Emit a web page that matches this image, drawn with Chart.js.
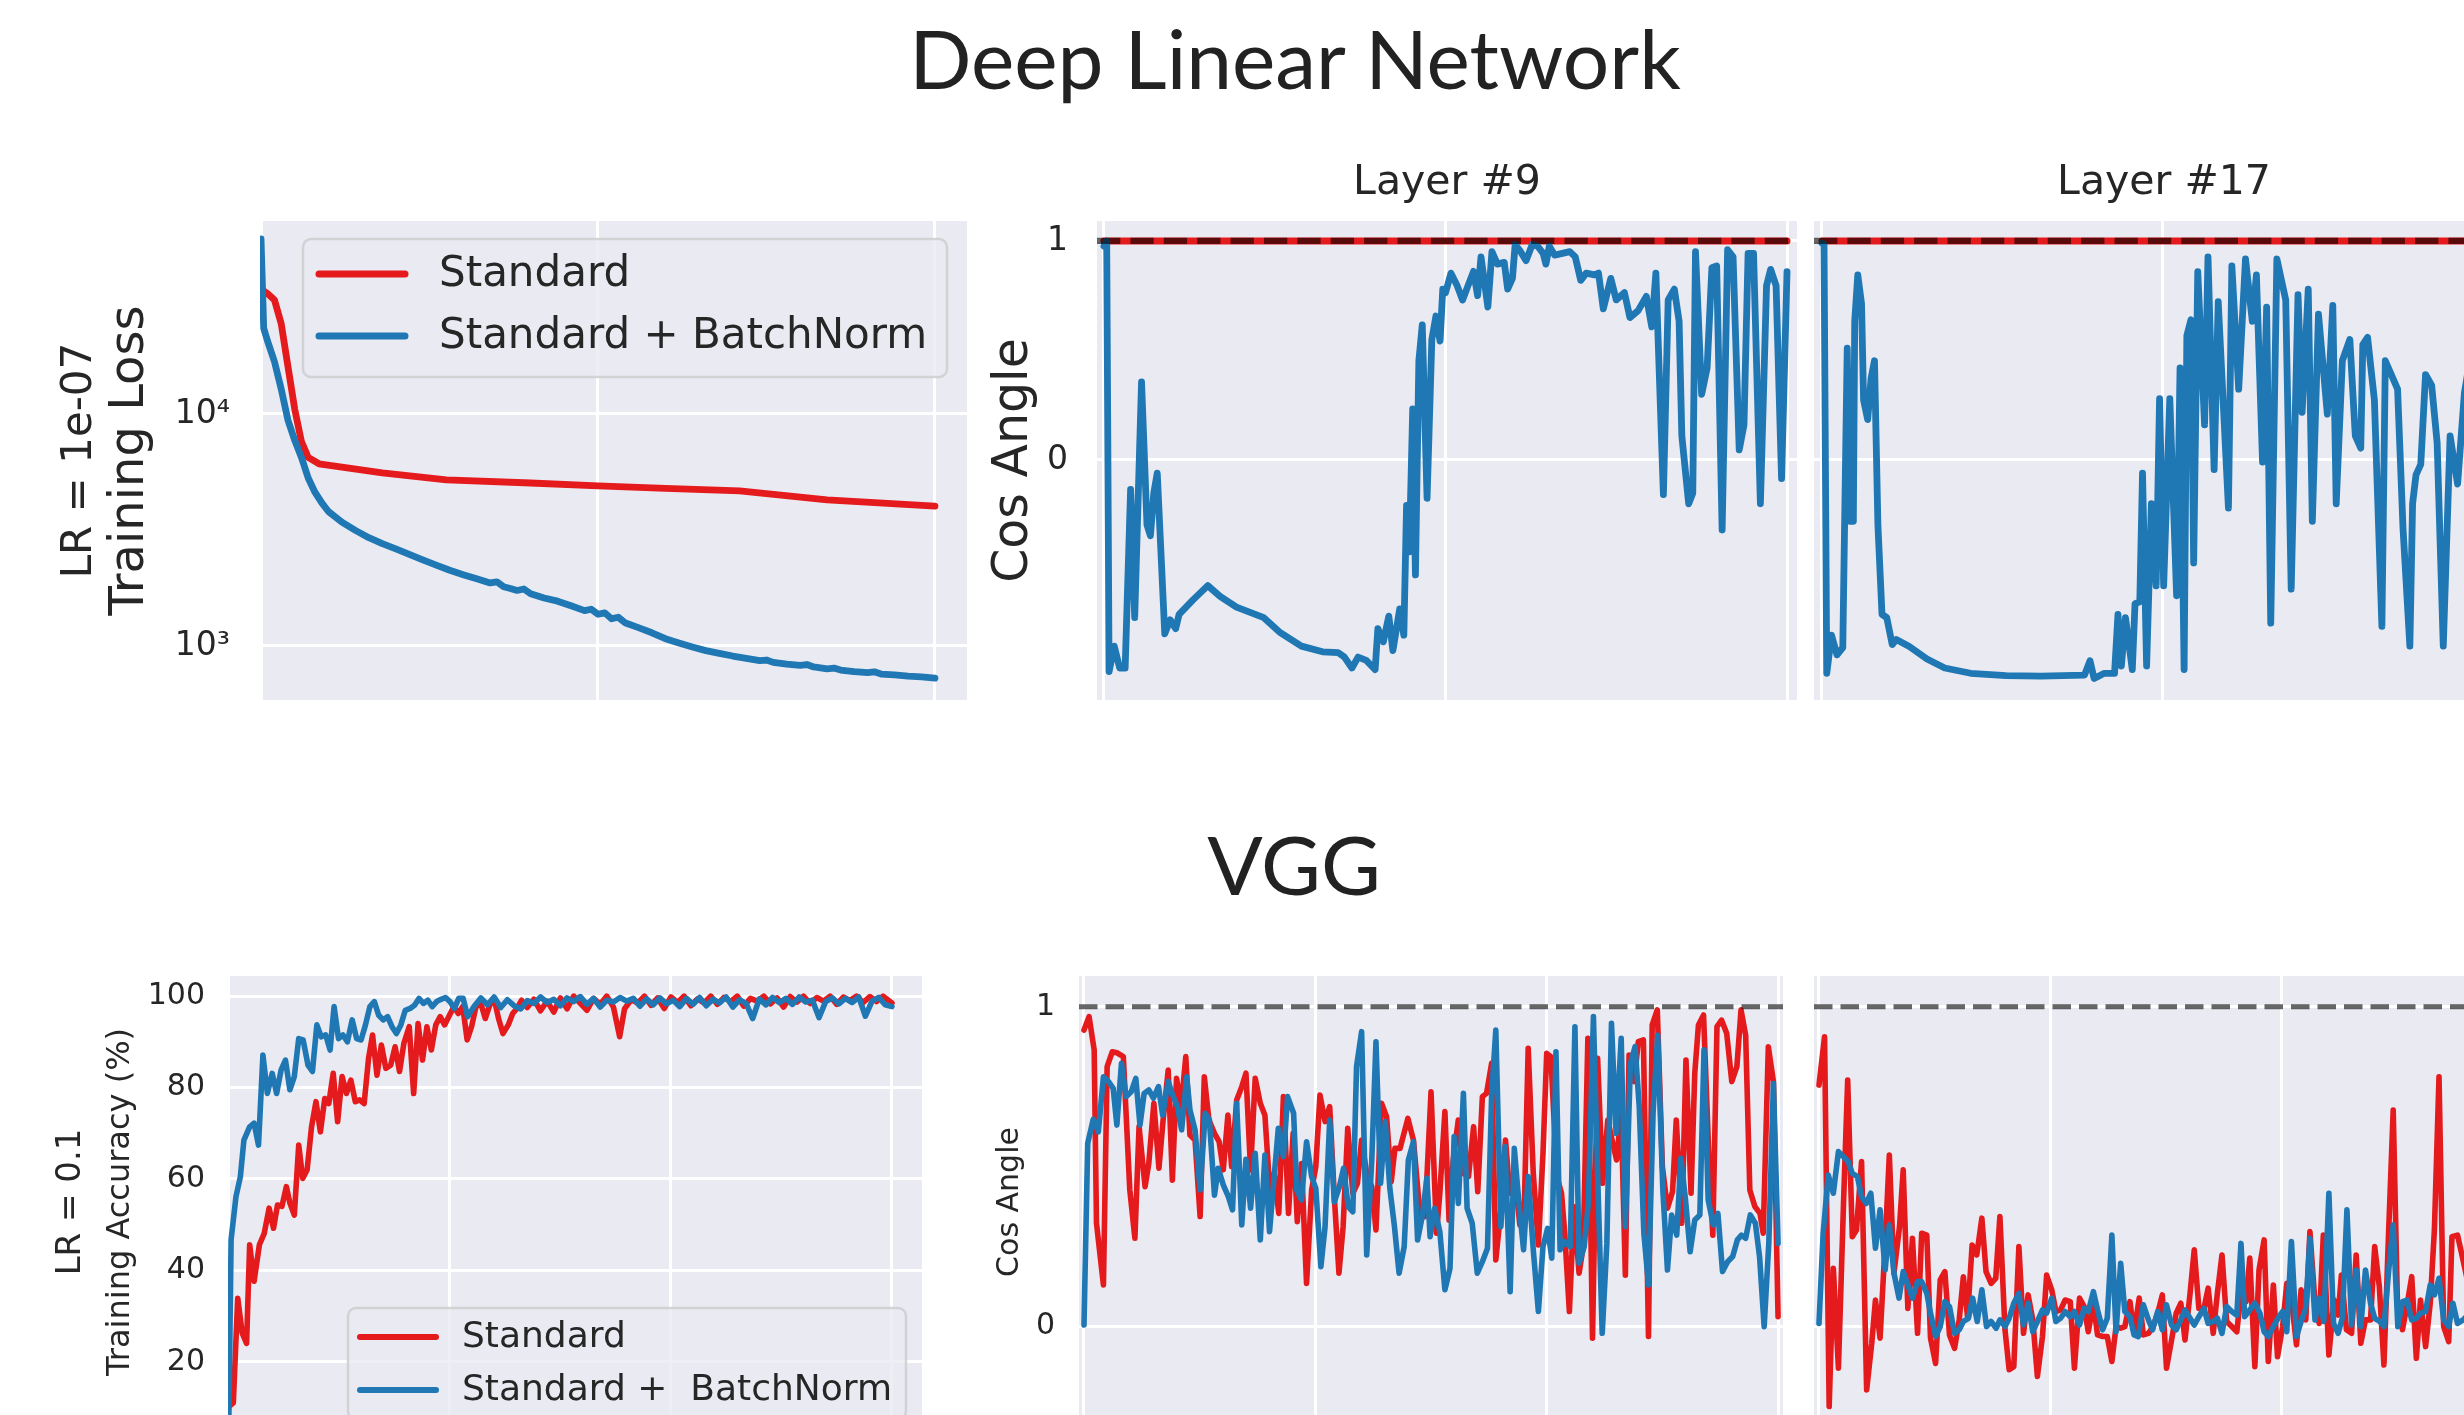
<!DOCTYPE html>
<html>
<head>
<meta charset="utf-8">
<script src="https://cdn.jsdelivr.net/npm/chart.js@4.4.1/dist/chart.umd.min.js"></script>
<style>
  html, body { margin: 0; padding: 0; background: #fff; overflow: hidden; width: 2464px; height: 1415px; }
  canvas { position: absolute; }
  .sup { position: absolute; font-family: Lato, sans-serif; font-size: 82px; line-height: 82px;
         color: #222; white-space: nowrap; transform: translateX(-50%); }
</style>
</head>
<body>
<div class="sup" style="left:1295px; top:16px;">Deep Linear Network</div>
<div class="sup" style="left:1294px; top:822px;">VGG</div>
<canvas id="lossChart"></canvas>
<canvas id="layer9Chart"></canvas>
<canvas id="layer17Chart"></canvas>
<canvas id="accChart"></canvas>
<canvas id="vggMidChart"></canvas>
<canvas id="vggRightChart"></canvas>
<script>
// ---- data (x = training step index) ----
var legendNames = ['Standard', 'Standard + BatchNorm'];
var legendNamesVgg = ['Standard', 'Standard +  BatchNorm'];
var lossTicks = [1000, 10000];
var cosTicks = [0, 1];
var accTicks = [20, 40, 60, 80, 100];

var dlnLossStd = [[0,34600],[1,33000],[2,31000],[3,24500],[4,16000],[5,10500],[6,7600],[7,6500],[8.6,6100],
  [12,5900],[18,5570],[27.5,5200],[40,5040],[50,4900],[60,4780],[71,4660],[84,4260],[100,4010]];
var dlnLossBN = [[0,56800],[0.4,23400],[1,20500],[2,16800],[3,12800],[4,9400],[5,7700],[6,6500],[7,5300],[8,4600],
  [9,4150],[10,3800],[12,3420],[14,3150],[16,2930],[18,2760],[20,2620],[22,2480],[24,2350],[26,2230],[28,2120],
  [30,2030],[32,1950],[34,1870],[35,1890],[36,1800],[37,1770],[38,1735],[39,1760],[40,1680],[42,1610],[44,1560],
  [46,1490],[48,1420],[49,1440],[50,1370],[51,1390],[52,1310],[53,1330],[54,1260],[56,1200],[58,1140],[60,1075],
  [62,1030],[64,990],[66,955],[68,930],[70,905],[72,885],[74,865],[75,870],[76,850],[78,835],[80,825],[81,832],
  [82,812],[84,797],[85,803],[86,787],[88,776],[90,768],[91,774],[92,757],[94,751],[96,742],[98,736],[100,727]];

var layer9Std = [[0,1],[100,1]];
var layer9BN = [[0,.976],[0.4,1],[0.75,-.966],[1.5,-.85],[2.3,-.95],[3.1,-.95],[3.9,-.134],[4.5,-.72],[5.5,.356],
  [6.3,-.297],[6.8,-.346],[7.3,-.15],[7.8,-.06],[8.9,-.794],[9.7,-.73],[10.5,-.77],[11,-.705],[13,-.64],[15.2,-.574],
  [17,-.623],[19.4,-.672],[23.4,-.72],[25.7,-.786],[28.9,-.85],[32,-.876],[34.3,-.88],[35.2,-.9],[36.3,-.95],
  [37.2,-.9],[38.4,-.915],[39.7,-.957],[40.1,-.77],[40.9,-.83],[41.7,-.713],[42.3,-.87],[43.3,-.68],[43.9,-.8],
  [44.3,-.207],[44.7,-.42],[45.2,.233],[45.6,-.525],[46.1,.453],[46.6,.617],[47.3,-.175],[48,.55],[48.6,.657],
  [49.2,.543],[49.6,.78],[50,.763],[50.8,.853],[51.7,.796],[52.5,.73],[53.3,.796],[54.1,.861],[54.7,.75],[55.2,.927],
  [56.2,.698],[56.8,.951],[57.6,.894],[58.6,.902],[59.1,.78],[59.8,.829],[60.2,.984],[61,.951],[61.8,.91],[62.7,.984],
  [63.5,.976],[64.3,.943],[64.7,.894],[65.2,.976],[66,.935],[68.2,.951],[69,.927],[69.8,.82],[70.6,.853],[71.8,.845],
  [72.4,.853],[73.1,.69],[74.2,.829],[75,.731],[76.2,.764],[77,.65],[78.2,.682],[79.4,.747],[80.2,.608],[80.8,.853],
  [81.9,-.158],[82.6,.731],[83.5,.78],[84.2,.633],[84.6,.11],[85.6,-.2],[86.2,-.152],[86.6,.951],[87.5,.3],[88.3,.42],
  [89,.878],[89.7,.886],[90.5,-.32],[91.3,.96],[92.1,.927],[93,.046],[93.7,.16],[94.3,.943],[95.1,.943],[96.1,-.2],
  [97,.796],[97.6,.87],[98.4,.796],[99.2,-.085],[100,.86]];

var layer17Std = [[0,1],[100,1]];
var layer17BN = [[0,.99],[0.3,.985],[0.7,-.974],[1.4,-.8],[2.2,-.89],[3.05,-.857],[3.7,.51],[4.1,-.28],[4.6,-.28],
  [4.8,.633],[5.25,.845],[5.8,.714],[6.1,.274],[6.7,.184],[7.2,.372],[7.7,.453],[8.2,-.296],[8.8,-.705],[9.5,-.72],
  [10.3,-.843],[10.9,-.82],[12.8,-.852],[15.4,-.909],[18,-.95],[21.8,-.974],[27,-.985],[32.1,-.987],[38.5,-.982],
  [39.3,-.917],[39.9,-.998],[41.4,-.974],[42.9,-.974],[43.4,-.705],[43.9,-.941],[44.5,-.72],[45.5,-.957],[45.9,-.656],
  [46.6,-.648],[47,-.06],[47.6,-.941],[48.3,-.2],[49,-.575],[49.5,.28],[50.1,-.575],[51,.28],[52,-.62],[52.5,.42],
  [53.1,-.957],[53.5,.568],[54.1,.64],[54.5,-.47],[55.1,.86],[56.1,.16],[56.6,.927],[57.5,-.044],[58.1,.723],
  [59.6,-.22],[60.1,.886],[61.1,.323],[62.1,.918],[63.1,.633],[63.7,.845],[64.6,-.01],[65.2,.698],[65.8,-.745],
  [66.7,.918],[68,.73],[68.8,-.59],[69.8,.755],[70.4,.217],[71.3,.78],[71.9,-.28],[72.8,.666],[74.1,.209],[74.9,.706],
  [75.4,-.2],[76.3,.453],[77.4,.55],[78.2,.11],[79,.054],[79.3,.527],[80,.56],[81,.274],[82.1,-.76],[82.6,.453],
  [84.4,.323],[85.2,-.315],[86.2,-.85],[86.6,-.2],[87.1,-.068],[87.8,-.02],[88.5,.39],[89.4,.34],[90.2,.078],
  [91.1,-.85],[92.1,.11],[93.2,-.11],[94.2,.307],[95.5,.55],[96.8,.05],[98,.62],[99.2,.2],[100,.45]];

var vggAccStd = [[0,10.2],[1,11],[2,33.9],[3,26.3],[4,24],[4.7,45.6],[5.7,37.6],[6.9,45.6],[8,48.1],[9.1,53.6],
  [10.1,49.2],[11,54.3],[12,54],[13,58.3],[13.8,54.7],[14.8,52.1],[15.8,67.4],[16.7,60.1],[17.7,62],[18.7,71.4],
  [19.7,76.9],[20.7,70.3],[21.7,77.6],[22.6,76.5],[23.6,83.1],[24.6,72.5],[25.6,82.4],[26.6,78.7],[27.6,81.6],
  [28.6,76.9],[29.6,77.3],[30.6,76.5],[31.6,86.4],[32.5,91.5],[33.5,82.7],[34.5,89.3],[35.5,84.2],[36.6,84.9],
  [37.6,88.9],[38.6,83.5],[39.6,89.7],[40.8,93.3],[41.8,78.7],[42.8,94],[43.8,86],[44.8,93.3],[45.8,88.2],[46.8,93.7],
  [47.8,95.5],[48.8,93.7],[49.9,95.8],[50.9,97.7],[51.9,96.2],[52.9,97.7],[53.9,90.4],[54.9,93.3],[55.9,97.7],[57,98.4],
  [58,95.1],[59,98],[60,99.5],[61,95.1],[62,91.8],[63.2,93.7],[64.2,96.2],[65.2,97.3],[66.2,99.1],[67.5,97.5],[69,99.3],
  [70.5,96.8],[72,98.9],[73.5,96.5],[75,99.6],[76.5,97.2],[78,100],[79.5,98.4],[81,96.9],[82.5,99.5],[84,98.2],
  [85.5,100],[87,97.6],[88.4,91.1],[89.5,97.2],[91,99.2],[92.5,98.5],[94,100],[95.5,98],[97,99.6],[98.5,97.3],
  [100,99.8],[101.5,98.6],[103,100],[104.5,97.9],[106,99.4],[107.5,98.5],[109,100],[110.5,98.2],[112,99.7],
  [113.5,98.8],[115,100],[116.5,97.8],[118,99.5],[119.5,98.9],[121,100],[122.5,98.3],[124,99.6],[125.5,97.6],
  [127,99.9],[128.5,98.7],[130,100],[131.5,98.4],[133,99.7],[134.5,98.9],[136,100],[137.5,98.2],[139,99.8],
  [140.5,99],[142,100],[143.5,98.6],[145,99.9],[146.5,98.8],[148,100],[150,98.5]];
var vggAccBN = [[0,8],[0.5,46.7],[1.6,56.1],[2.6,60.5],[3.4,68.5],[4.7,71.4],[5.7,72.2],[6.7,67.4],[7.7,87.1],
  [8.7,78.7],[9.8,83.1],[10.8,78.7],[11.8,83.8],[12.8,86],[13.8,79.5],[14.8,82.4],[15.8,90.7],[16.8,90.4],[17.9,84.9],
  [18.9,83.5],[19.9,93.7],[20.9,91.1],[21.9,91.5],[22.9,88.2],[23.8,97.7],[24.8,90.7],[25.8,91.5],[26.8,90],
  [27.9,94.8],[28.9,90.7],[29.9,90.4],[30.9,93.7],[31.9,97.7],[32.9,98.8],[33.9,95.8],[34.9,94.8],[35.9,95.5],
  [36.9,93.3],[37.9,91.8],[38.9,93.7],[39.9,96.9],[41,97.3],[42,98],[43,99.5],[44,98.4],[45,99.1],[46,97.7],[47,98.8],
  [48,99.3],[49,99.7],[50,98.8],[51,97.3],[52,99.5],[53,99.5],[54,95.5],[55.5,97.8],[57,99.6],[58.5,98.1],[60,99.8],
  [61.5,97.5],[63,99.2],[64.5,97.9],[66,97.2],[67.5,99],[69,98.4],[70.5,99.8],[72,98.6],[73.5,99.3],[75,97.9],
  [76.5,99.6],[78,98.8],[79.5,99.9],[81,98.2],[82.5,99.5],[84,97.6],[85.5,99.1],[87,98.7],[88.5,99.7],[90,98.9],
  [91.5,99.5],[93,97.8],[94.5,99.4],[96,98.1],[97.5,99.6],[99,98.3],[100.5,99.1],[102,97.7],[103.5,99.5],[105,98.2],
  [106.5,99.7],[108,97.9],[109.5,99.3],[111,98.5],[112.5,99.8],[114,97.6],[115.5,99.2],[117,98.4],[118.5,95.1],
  [120,99.4],[121.5,98.1],[123,99.7],[124.5,98.6],[126,99.5],[127.5,98.2],[129,99.8],[130.5,98.7],[132,99.1],
  [133.5,95.3],[135,98.8],[136.5,99.6],[138,98.3],[139.5,99.5],[141,98.6],[142.5,99.8],[144,95.6],[145.5,98.9],
  [147,99.7],[148.5,98.1],[150,97.7]];

var vggMidStd = [[0,.927],[1.1,.969],[2.2,.865],[2.7,.323],[4.2,.13],[5,.8125],[6.1,.859],[7.1,.856],[8.5,.844],
  [9.9,.427],[11,.276],[11.9,.625],[13.2,.4375],[14,.51],[15.1,.698],[16.2,.495],[17.1,.646],[18.2,.802],[19.1,.458],
  [20,.776],[21,.6875],[22,.844],[22.9,.599],[24,.583],[25.1,.344],[26,.781],[27,.646],[28.2,.604],[29.2,.578],
  [30.1,.49],[31.1,.661],[31.9,.5],[33,.708],[34.1,.75],[35,.792],[36,.49],[37,.776],[38.1,.698],[39.1,.661],
  [40.2,.417],[41.1,.479],[42.1,.354],[43.1,.719],[44.2,.354],[45.2,.604],[46.1,.328],[47,.51],[48.1,.135],[49.2,.427],
  [50.1,.5],[51,.724],[52.1,.641],[53.1,.6875],[54.1,.406],[55.1,.167],[56,.3125],[57,.62],[58.1,.417],[59.1,.448],
  [60,.583],[61.1,.479],[62.2,.4375],[63.1,.302],[64.3,.698],[65.4,.656],[66.4,.453],[67.2,.557],[68.3,.557],[70,.651],
  [71.2,.583],[72.6,.354],[73.7,.344],[75,.734],[76.2,.292],[76.9,.417],[78,.672],[78.9,.333],[79.8,.521],[80.9,.646],
  [82,.479],[83.1,.469],[84.2,.625],[85.1,.422],[86.1,.719],[87,.729],[88.1,.823],[89,.208],[90.1,.365],[91.1,.583],
  [92,.417],[93.1,.469],[94.2,.318],[95.2,.396],[96,.87],[97.1,.479],[98.2,.255],[99.2,.542],[100,.854],[100.9,.844],
  [102.2,.469],[103.2,.417],[103.9,.292],[104.9,.047],[105.9,.375],[107,.167],[107.9,.25],[108.9,.901],[109.9,-.036],
  [111,.839],[112.1,.448],[113.2,.646],[114.2,.578],[115.1,.521],[116.1,.667],[117,.161],[117.8,.849],[118.9,.766],
  [119.8,.891],[120.9,.896],[122,-.031],[122.8,.943],[123.9,.99],[125,.5],[126.1,.37],[127.2,.422],[128,.646],
  [129.2,.323],[130.1,.833],[131.2,.417],[132,.792],[132.8,.943],[133.9,.974],[135,.552],[135.9,.286],[136.8,.9375],
  [137.8,.958],[138.9,.917],[140,.766],[141.1,.8125],[142,.99],[143,.911],[143.9,.427],[145,.375],[146.1,.354],
  [146.8,.292],[147.9,.875],[149,.766],[150,.031]];
var vggMidBN = [[0,.005],[0.8,.573],[2,.648],[3.1,.609],[4.2,.781],[5.3,.766],[6.3,.745],[7.1,.63],[8.1,.823],
  [9.1,.719],[10.2,.734],[11.2,.776],[12.1,.63],[13,.729],[14,.74],[15,.714],[16.1,.75],[17,.661],[18.2,.766],
  [19.3,.719],[20.2,.6875],[21.1,.615],[22.2,.781],[22.9,.677],[24,.615],[25.1,.427],[26.2,.667],[27.1,.646],
  [28.2,.411],[29,.495],[30.1,.443],[31.2,.406],[32.1,.365],[33,.698],[34.1,.318],[35,.523],[36,.37],[37,.542],
  [38.1,.271],[39.1,.536],[40.1,.297],[41.1,.469],[42,.62],[43.1,.531],[44,.719],[45.3,.667],[46,.427],[47,.396],
  [48.1,.578],[49.2,.469],[50.1,.432],[51.2,.1875],[52.1,.3125],[53.1,.646],[54.1,.39],[55.2,.4375],[56.1,.495],
  [57.1,.375],[58.1,.359],[58.9,.8125],[60,.922],[61.1,.224],[62.2,.521],[63.1,.89],[64.1,.448],[65.1,.641],
  [66.1,.432],[67.1,.3125],[68.1,.167],[69.2,.25],[70.1,.521],[71.2,.578],[72.1,.271],[73.1,.344],[74.1,.464],
  [74.8,.281],[75.8,.37],[76.9,.297],[78,.115],[79.1,.182],[80,.594],[80.9,.385],[82,.729],[82.8,.37],[83.9,.323],
  [85,.167],[86.1,.203],[87.2,.245],[88.1,.724],[89,.927],[90.1,.3125],[91,.5625],[92.1,.109],[93,.557],[94,.385],
  [95,.24],[96,.469],[97.1,.24],[98.2,.047],[99.2,.25],[100.2,.307],[101.1,.214],[102,.859],[102.9,.24],[103.8,.266],
  [105.1,.25],[106.1,.9375],[107,.198],[108.1,.25],[109,.385],[110.1,.969],[111,.479],[112,-.021],[113,.26],[114,.948],
  [115,.604],[116.1,.901],[117,.3125],[118.1,.823],[119.1,.875],[120,.6875],[121,.292],[122,.13],[123,.672],[124,.911],
  [125.1,.427],[126.1,.177],[127,.349],[128.1,.286],[129,.526],[130,.396],[131,.234],[132,.333],[133.1,.349],[134,.865],
  [134.9,.396],[136,.318],[137,.354],[138,.172],[139.1,.203],[140.2,.219],[141.2,.271],[142.1,.286],[143,.276],
  [144,.349],[145.1,.323],[146,.219],[147,0],[148,.26],[149,.76],[150,.26]];

var vggRightStd = [[0,.755],[1.2,.906],[2.2,-.25],[3.1,.182],[4.2,-.13],[5.3,.385],[6.2,.771],[7.2,.281],[8.1,.302],
  [9.2,.516],[10.3,-.198],[11.4,-.052],[12.2,.083],[13.2,-.036],[14.3,.26],[15.2,.536],[16.2,.167],[17.4,.3125],
  [18.2,.49],[19.2,.057],[20.2,.276],[21.3,-.021],[22.2,.292],[23.3,.286],[24.1,-.036],[25.2,-.115],[26.2,.146],
  [27.2,.172],[28.2,-.026],[29.3,-.068],[30.3,.021],[31.2,.156],[32.1,.031],[33.1,.255],[34.1,.224],[35.2,.339],
  [36.1,.172],[37.2,.135],[38.2,.151],[39.1,.344],[40.2,-.01],[41.1,-.135],[42.1,-.125],[43.2,.25],[44.2,-.021],
  [45.2,.099],[46.2,.021],[47.2,-.156],[48.3,-.031],[49.2,.161],[50.3,.115],[51.2,.047],[52.2,.052],[53.2,.083],
  [54.3,.078],[55.2,-.13],[56.3,.089],[57.3,.0625],[58.2,-.016],[59.3,.073],[60.2,-.026],[61.3,-.031],[62.3,-.031],
  [63.3,-.109],[64.2,0],[65.2,-.005],[66.1,0],[67.2,.078],[68.1,-.021],[69.2,.089],[70.1,-.026],[71.2,-.021],[72.2,0],
  [73.2,.042],[74.2,.099],[75.1,-.13],[76.2,-.042],[77.2,.042],[78.2,.073],[79.1,-.042],[80.2,.104],[81.1,.24],
  [82.1,.057],[83.2,.057],[84.1,.12],[85.2,-.021],[86.1,.104],[87.1,.224],[88.1,.016],[89.2,0],[90.3,-.016],[91.2,.104],
  [92.3,.078],[93.1,.214],[94.2,-.125],[95.1,.177],[96.2,.271],[97.1,-.109],[98.2,.13],[99.1,-.094],[100.2,0],
  [101.1,.135],[102.1,.083],[103.2,-.057],[104.2,.115],[105.2,.021],[106.1,.297],[107.2,.073],[108.1,.01],[109,.286],
  [110.2,-.089],[111.3,.083],[112.2,.036],[112.9,.161],[114,-.01],[115.1,-.021],[116.1,.224],[117.1,-.052],[118.1,.021],
  [119.2,.021],[120.1,.25],[121.1,.125],[122.1,-.12],[123.1,.292],[124.1,.677],[125,.083],[126.1,-.01],[127.1,.068],
  [128.1,.156],[129.1,-.099],[130,.083],[131.1,-.0625],[132.1,.073],[133,.302],[134,.781],[135,0],[136.1,-.047],
  [136.8,.281],[138,.286],[139.2,.208],[140.5,.12],[141.5,.05]];
var vggRightBN = [[0,.01],[0.9,.292],[2,.474],[3.1,.417],[4.2,.547],[5.3,.531],[6.3,.516],[7.2,.479],[8.3,.469],
  [9.2,.406],[10.2,.385],[11.2,.417],[12.2,.245],[13.2,.365],[14.3,.177],[15.2,.318],[16.2,.167],[17.3,.089],
  [18.2,.172],[19.2,.13],[20.2,.089],[21.3,.141],[22.2,.141],[23.3,.104],[24.1,.042],[25.2,-.031],[26.2,0],[27.2,.078],
  [28.2,.0625],[29.3,-.021],[30.3,-.01],[31.2,.016],[32.3,.026],[33.2,.089],[34.2,.016],[35.2,.115],[36.2,0],[37.2,.016],
  [38.3,-.005],[39.1,.021],[40.2,0],[41.1,.026],[42.1,.073],[43.2,.104],[44.2,.005],[45.2,.073],[46.2,-.016],[47.2,.016],
  [48.3,.052],[49.2,.042],[50.3,.089],[51.2,.016],[52.2,.026],[53.2,.047],[54.3,.031],[55.2,.047],[56.3,.005],[57.3,.057],
  [58.2,.047],[59.3,.109],[60.2,.052],[61.3,-.01],[62.3,.026],[63.3,.286],[64.2,-.016],[65.2,.198],[66.1,.047],[67.2,.031],
  [68.1,-.026],[69,-.031],[70.1,.068],[71.2,.021],[72.1,-.01],[73.2,.047],[74.2,-.01],[75.1,.068],[76.2,.005],[77.2,-.01],
  [78.2,.021],[79.1,.052],[80.2,.026],[81.1,.005],[82.1,.031],[83.2,.057],[84.1,.01],[85.2,.016],[86.1,.026],[87.1,-.021],
  [88.1,.0625],[89.2,.047],[90.3,.036],[91.2,.26],[92,.031],[93.1,.052],[94.2,.073],[95.3,.042],[96.2,-.016],[97.1,-.031],
  [98.2,0],[99.2,.026],[100.2,.047],[101.1,-.016],[102.1,.266],[103.2,-.031],[104.2,.016],[105.2,.057],[106.1,.276],
  [107.2,.021],[108.1,.089],[109.1,.016],[110.2,.417],[111.2,.01],[112.2,-.021],[113.1,.026],[114.1,.365],[115.1,.005],
  [116.1,.177],[117.1,0],[118.1,.177],[119.2,.073],[120.1,.026],[121.2,.016],[122.1,0],[123.1,.172],[124.1,.318],
  [125.1,0],[126.1,.078],[127.1,.083],[128.1,.021],[129.1,.026],[130,.042],[131.1,.047],[132.1,.13],[133,.099],[134,.151],
  [135,.021],[136.1,0],[137,.073],[138,.01],[139.2,.021],[140.5,.04],[141.5,.02]];

// ---- styling ----
var RED = '#e41a1c', BLUE = '#1f77b4', INK = '#262626', FONT = '"DejaVu Sans"';
Chart.defaults.font.family = FONT;
Chart.defaults.color = INK;

function pts(arr) { return arr.map(function (p) { return {x: p[0], y: p[1]}; }); }

function line(data, color, w) {
  return {data: pts(data), borderColor: color, borderWidth: w, pointRadius: 0, tension: 0,
          borderJoinStyle: 'round', borderCapStyle: 'round', fill: false};
}

var plotBg = {
  id: 'plotBg',
  beforeDraw: function (chart) {
    var a = chart.chartArea, ctx = chart.ctx;
    ctx.save(); ctx.fillStyle = '#eaeaf2'; ctx.fillRect(a.left, a.top, a.width, a.height); ctx.restore();
  }
};

function refLine(lw) {
  return {
    id: 'refLine',
    afterDatasetsDraw: function (chart) {
      var a = chart.chartArea, ctx = chart.ctx, y = chart.scales.y.getPixelForValue(1);
      ctx.save();
      ctx.beginPath(); ctx.rect(a.left, a.top, a.width, a.height); ctx.clip();
      ctx.strokeStyle = 'rgba(0,0,0,0.6)'; ctx.lineWidth = lw; ctx.setLineDash([3.7 * lw, 1.6 * lw]);
      ctx.beginPath(); ctx.moveTo(a.left, y); ctx.lineTo(a.right, y); ctx.stroke();
      ctx.restore();
    }
  };
}

function boxLegend(L) {
  return {
    id: 'boxLegend',
    afterDraw: function (chart) {
      var a = chart.chartArea, ctx = chart.ctx, x = a.left + L.dx, y = a.top + L.dy;
      ctx.save();
      ctx.beginPath(); ctx.roundRect(x, y, L.w, L.h, 8);
      ctx.fillStyle = 'rgba(234,234,242,0.8)'; ctx.fill();
      ctx.strokeStyle = 'rgba(204,204,204,0.8)'; ctx.lineWidth = 2.5; ctx.stroke();
      ctx.font = L.size + 'px ' + FONT; ctx.textBaseline = 'middle'; ctx.fillStyle = INK;
      L.names.forEach(function (name, i) {
        var yy = y + L.first + i * L.step;
        ctx.strokeStyle = L.colors[i]; ctx.lineWidth = L.lw; ctx.lineCap = 'round';
        ctx.beginPath(); ctx.moveTo(x + L.s0, yy); ctx.lineTo(x + L.s1, yy); ctx.stroke();
        ctx.fillText(name, x + L.tx, yy + 1);
      });
      ctx.restore();
    }
  };
}

function zeroPad(s) { s.paddingTop = 0; s.paddingBottom = 0; s.paddingLeft = 0; s.paddingRight = 0; }

function xAxis(min, max, ticks) {
  return {
    type: 'linear', min: min, max: max,
    afterFit: function (s) { s.height = 0; zeroPad(s); },
    afterBuildTicks: function (s) { s.ticks = ticks.map(function (v) { return {value: v}; }); },
    grid: {color: '#ffffff', lineWidth: 3, drawTicks: false},
    border: {display: false},
    ticks: {display: false}
  };
}

function yAxis(o) {
  return {
    type: o.type || 'linear', min: o.min, max: o.max,
    afterFit: function (s) { s.width = o.width; zeroPad(s); },
    afterBuildTicks: function (s) { s.ticks = o.ticks.map(function (v) { return {value: v}; }); },
    grid: {color: '#ffffff', lineWidth: 3, drawTicks: false},
    border: {display: false},
    ticks: {display: !!o.tickSize, padding: o.tickPad || 0, color: INK,
            font: {size: o.tickSize || 10}, callback: o.fmt || function (v) { return String(v); }},
    title: {display: !!o.title, text: o.title || '', color: INK,
            font: {size: o.titleSize || 10, lineHeight: 1}, padding: {top: o.titlePad || 0, bottom: 0}}
  };
}

function makeChart(id, g, datasets, scales, plugins, titleOpt) {
  var cv = document.getElementById(id);
  cv.width = g.w; cv.height = g.h;
  cv.style.left = g.x + 'px'; cv.style.top = g.y + 'px';
  return new Chart(cv.getContext('2d'), {
    type: 'line',
    data: {datasets: datasets},
    options: {
      responsive: false, animation: false, devicePixelRatio: 1, events: [],
      parsing: false, normalized: true,
      layout: {padding: g.pad},
      scales: scales,
      plugins: {
        legend: {display: false}, tooltip: {enabled: false},
        title: titleOpt || {display: false}
      }
    },
    plugins: [plotBg].concat(plugins)
  });
}

var TOP_LW = 6.8, BOT_LW = 5.6;

// ---- Deep Linear Network: training loss ----
makeChart('lossChart', {x: 59, y: 180, w: 918, h: 560, pad: {left: 0, top: 41, right: 10, bottom: 40}},
  [line(dlnLossBN, BLUE, TOP_LW), line(dlnLossStd, RED, TOP_LW)],
  {
    x: xAxis(-0.15, 104.75, [0, 50, 100]),
    y: yAxis({type: 'logarithmic', min: 585, max: 67900, ticks: lossTicks, width: 159,
              tickSize: 33, tickPad: 30, title: 'Training Loss', titleSize: 48, titlePad: 6,
              fmt: function (v) { return v === 1000 ? '10\u00b3' : '10\u2074'; }})
  },
  [boxLegend({dx: 43, dy: 18, w: 644, h: 138, first: 35, step: 62, s0: 16, s1: 102, tx: 136,
              size: 42, lw: 7, names: legendNames, colors: [RED, BLUE]})],
  {display: true, text: 'LR = 1e-07', position: 'left', fullSize: false, color: INK,
   font: {size: 42, lineHeight: 1, weight: 'normal'}, padding: 0});

// ---- Deep Linear Network: cosine angle, layer #9 and #17 ----
makeChart('layer9Chart', {x: 990, y: 163, w: 812, h: 577, pad: {left: 0, top: 0, right: 5, bottom: 40}},
  [line(layer9BN, BLUE, TOP_LW), line(layer9Std, RED, 7)],
  {
    x: xAxis(-1.02, 101.46, [0, 50, 100]),
    y: yAxis({min: -1.096, max: 1.091, ticks: cosTicks, width: 107, tickSize: 33, tickPad: 29,
              title: 'Cos Angle', titleSize: 49, titlePad: 0})
  },
  [refLine(6.3)],
  {display: true, text: 'Layer #9', position: 'top', fullSize: false, color: INK,
   font: {size: 41, lineHeight: 1, weight: 'normal'}, padding: {top: 0, bottom: 17}});

makeChart('layer17Chart', {x: 1814, y: 163, w: 705, h: 577, pad: {left: 0, top: 0, right: 5, bottom: 40}},
  [line(layer17BN, BLUE, TOP_LW), line(layer17Std, RED, 7)],
  {
    x: xAxis(-1.17, 101.47, [0, 50, 100]),
    y: yAxis({min: -1.096, max: 1.091, ticks: cosTicks, width: 0})
  },
  [refLine(6.3)],
  {display: true, text: 'Layer #17', position: 'top', fullSize: false, color: INK,
   font: {size: 41, lineHeight: 1, weight: 'normal'}, padding: {top: 0, bottom: 17}});

// ---- VGG: training accuracy ----
makeChart('accChart', {x: 54, y: 936, w: 878, h: 532, pad: {left: 0, top: 40, right: 10, bottom: 40}},
  [line(vggAccBN, BLUE, BOT_LW), line(vggAccStd, RED, BOT_LW)],
  {
    x: xAxis(-0.2, 156.8, [0, 50, 100, 150]),
    y: yAxis({min: 5.5, max: 104.4, ticks: accTicks, width: 140, tickSize: 30, tickPad: 23,
              title: 'Training Accuracy (%)', titleSize: 32, titlePad: 17})
  },
  [boxLegend({dx: 120, dy: 332, w: 558, h: 111, first: 29, step: 53, s0: 12, s1: 88, tx: 114,
              size: 36, lw: 6, names: legendNamesVgg, colors: [RED, BLUE]})],
  {display: true, text: 'LR = 0.1', position: 'left', fullSize: false, color: INK,
   font: {size: 34, lineHeight: 1, weight: 'normal'}, padding: 0});

// ---- VGG: cosine angle, two layers ----
makeChart('vggMidChart', {x: 995, y: 936, w: 793, h: 532, pad: {left: 0, top: 40, right: 5, bottom: 40}},
  [line(vggMidBN, BLUE, BOT_LW), line(vggMidStd, RED, BOT_LW)],
  {
    x: xAxis(-1.08, 151.07, [0, 50, 100, 150]),
    y: yAxis({min: -0.317, max: 1.096, ticks: cosTicks, width: 84, tickSize: 30, tickPad: 24,
              title: 'Cos Angle', titleSize: 30, titlePad: 0})
  },
  [refLine(5)]);

makeChart('vggRightChart', {x: 1814, y: 936, w: 709, h: 532, pad: {left: 0, top: 40, right: 5, bottom: 40}},
  [line(vggRightBN, BLUE, BOT_LW), line(vggRightStd, RED, BOT_LW)],
  {
    x: xAxis(-1.08, 151.07, [0, 50, 100, 150]),
    y: yAxis({min: -0.317, max: 1.096, ticks: cosTicks, width: 0})
  },
  [refLine(5)]);
</script>
</body>
</html>
